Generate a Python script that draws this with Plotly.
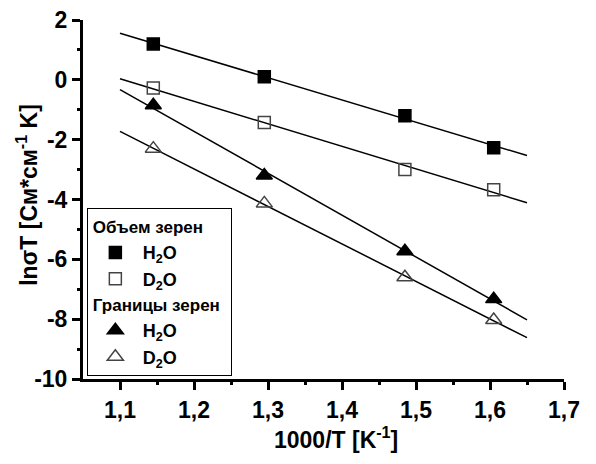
import numpy as np
import plotly.graph_objects as go

# ---- data ----
x_vals = [1.145, 1.295, 1.485, 1.605]
bulk_h2o = [1.2, 0.1, -1.2, -2.27]
bulk_d2o = [-0.27, -1.43, -3.0, -3.67]
gb_h2o = [-0.85, -3.2, -5.73, -7.33]
gb_d2o = [-2.3, -4.13, -6.6, -8.03]
fit_range = [1.1, 1.65]

x_ticks = [1.1, 1.2, 1.3, 1.4, 1.5, 1.6, 1.7]
x_ticktext = ["1,1", "1,2", "1,3", "1,4", "1,5", "1,6", "1,7"]
x_minor = [1.15, 1.25, 1.35, 1.45, 1.55, 1.65]
y_ticks = [-10, -8, -6, -4, -2, 0, 2]
y_ticktext = ["-10", "-8", "-6", "-4", "-2", "0", "2"]
y_minor = [-9, -7, -5, -3, -1, 1]
x_range = [1.05, 1.7]
y_range = [-10, 2]

FONT = "Arial"
fig = go.Figure()

series = [
    (bulk_h2o, "square", "black", "H<sub>2</sub>O", "bulk", "Объем зерен", 12),
    (bulk_d2o, "square-open", "#444444", "D<sub>2</sub>O", "bulk", None, 12),
    (gb_h2o, "triangle-up", "black", "H<sub>2</sub>O", "gb", "Границы зерен", 14),
    (gb_d2o, "triangle-up-open", "#444444", "D<sub>2</sub>O", "gb", None, 14),
]

for ys, sym, col, name, grp, gtitle, sz in series:
    k, b = np.polyfit(x_vals, ys, 1)
    fx = np.array(fit_range)
    fig.add_trace(go.Scatter(x=fx, y=k * fx + b, mode="lines",
                             line=dict(color="black", width=1.5),
                             showlegend=False, hoverinfo="skip"))

for ys, sym, col, name, grp, gtitle, sz in series:
    tr = dict(x=x_vals, y=ys, mode="markers", name=name, legendgroup=grp,
              marker=dict(symbol=sym, size=sz, color=col,
                          line=dict(width=1.5, color=col)))
    if gtitle:
        tr["legendgrouptitle"] = dict(text=gtitle,
                                      font=dict(family=FONT, size=17, color="black", weight=700))
    fig.add_trace(go.Scatter(**tr))

# empty trace to carry the minor-tick overlay axes
fig.add_trace(go.Scatter(x=[], y=[], xaxis="x2", yaxis="y2", showlegend=False, hoverinfo="skip"))

axis_common = dict(showgrid=False, zeroline=False, showline=True, linecolor="#000000", linewidth=3,
                   ticks="outside", ticklen=8, tickwidth=3, tickcolor="#000000",
                   tickfont=dict(family=FONT, size=23, color="black", weight=700))
minor_common = dict(showgrid=False, zeroline=False, showline=False, ticks="outside",
                    ticklen=5, tickwidth=3, tickcolor="#000000", showticklabels=False,
                    tickmode="array")

fig.update_layout(
    template="none",
    width=596, height=464,
    margin=dict(l=83, r=32, t=20, b=85),
    paper_bgcolor="white", plot_bgcolor="white",
    font=dict(family=FONT, size=18, color="black", weight=700),
    showlegend=True,
    legend=dict(x=0.008, y=0.476, xanchor="left", yanchor="top",
                bordercolor="black", borderwidth=1, bgcolor="white",
                font=dict(family=FONT, size=18, color="black", weight=700),
                tracegroupgap=0, traceorder="grouped", itemwidth=45),
    xaxis=dict(range=x_range, tickmode="array", tickvals=x_ticks,
               ticktext=x_ticktext, **axis_common),
    yaxis=dict(range=y_range, tickmode="array", tickvals=y_ticks,
               ticktext=y_ticktext, **axis_common),
    xaxis2=dict(range=x_range, overlaying="x", anchor="y", side="bottom",
                tickvals=x_minor, **minor_common),
    yaxis2=dict(range=y_range, overlaying="y", anchor="x", side="left",
                tickvals=y_minor, **minor_common),
    annotations=[
        dict(text="1000/T [K<sup>-1</sup>]", xref="paper", yref="paper", x=0.526, y=0,
             yshift=-59, showarrow=False, xanchor="center", yanchor="middle",
             font=dict(family=FONT, size=23, color="black", weight=700)),
        dict(text="lnσT [См*см<sup>-1</sup> K]", xref="paper", yref="paper", x=0, y=0.513,
             xshift=-56, showarrow=False, textangle=-90, xanchor="center", yanchor="middle",
             font=dict(family=FONT, size=23, color="black", weight=700)),
    ],
)

fig.write_html("out.html")
